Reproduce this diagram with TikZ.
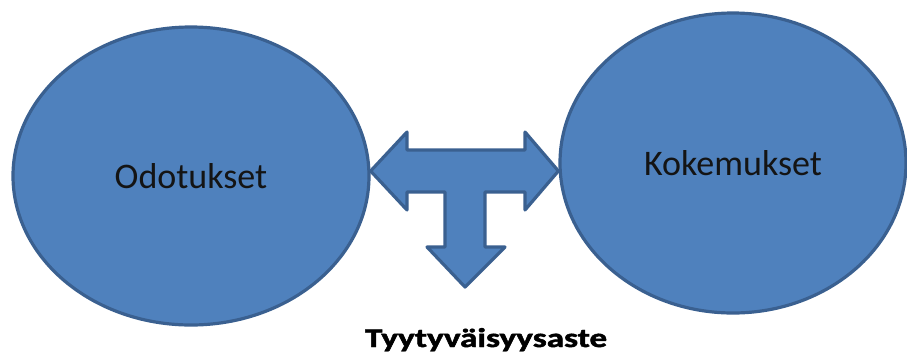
\documentclass[tikz,border=0pt]{standalone}
\usepackage{fontspec}
\setmainfont{Carlito}
\newfontfamily\heavyfont{Carlito}[BoldFeatures={FakeBold=1.6}]
\usepackage{graphicx}
\usetikzlibrary{shapes, calc}
\definecolor{blobfill}{HTML}{4F81BD}
\definecolor{blobedge}{HTML}{3A6090}
\definecolor{inktext}{HTML}{141414}
\tikzset{
    blob/.style={ellipse, draw=blobedge, fill=blobfill, line width=3.2pt, inner sep=0pt,
        text=inktext, font=\fontsize{36}{40}\selectfont},
    teearrow/.style={draw=blobedge, fill=blobfill, line width=3.2pt, line join=round}
}

\begin{document}
\begin{tikzpicture}[x=1pt, y=-1pt]
    \useasboundingbox (0,0) rectangle (907,357);
    \node[blob, minimum width=356, minimum height=298] (odo) at (191,176) {Odotukset};
    \node[blob, minimum width=346, minimum height=300] (koke) at (733,163) {Kokemukset};
    \coordinate (mid) at (466,171);
    % T-shaped arrow between the ellipses
    \draw[teearrow] (odo.east |- mid) -- (407,132) -- (407,150) -- (525,150) -- (525,132)
        -- (koke.west |- mid) -- (525,210) -- (525,192) -- (485,192) -- (485,247)
        -- (505,247) -- (465,287) -- (427,247) -- (445,247) -- (445,192)
        -- (407,192) -- (407,210) -- cycle;
    \node[anchor=base, inner sep=0pt, text=black, font=\heavyfont\bfseries\fontsize{27}{30}\selectfont] (aste) at (486,347)
        {\scalebox{1.3}[1]{Tyytyväisyysaste}};
\end{tikzpicture}
\end{document}
